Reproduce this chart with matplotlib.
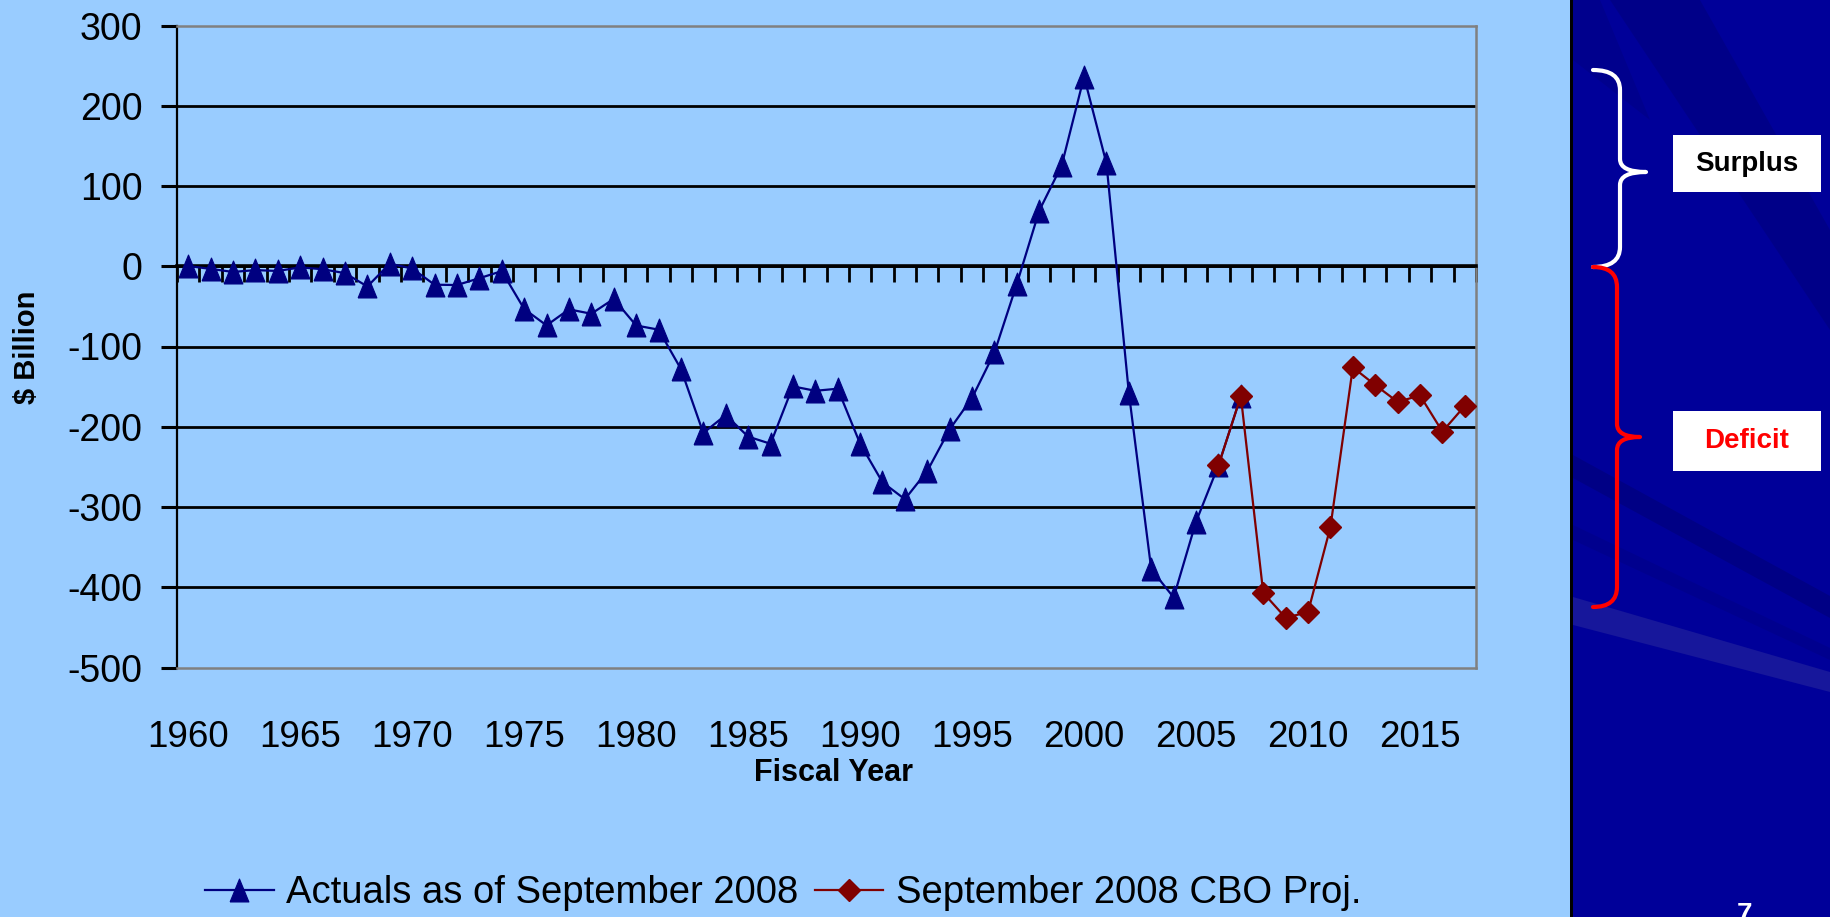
import numpy as np
import matplotlib
matplotlib.use("Agg")
import matplotlib.pyplot as plt
from matplotlib.path import Path
from matplotlib.patches import PathPatch, Rectangle, Polygon

# ---------------- data ----------------
years_actual = list(range(1960, 2008))
actual = [0.3, -3.3, -7.1, -4.8, -5.9, -1.4, -3.7, -8.6, -25.2, 3.2,
          -2.8, -23.0, -23.4, -14.9, -6.1, -53.2, -73.7, -53.7, -59.2, -40.7,
          -73.8, -79.0, -128.0, -207.8, -185.4, -212.3, -221.2, -149.7, -155.2, -152.6,
          -221.0, -269.2, -290.3, -255.1, -203.2, -164.0, -107.4, -21.9, 69.3, 125.6,
          236.2, 128.2, -157.8, -377.6, -412.7, -318.3, -248.2, -162.0]
years_proj = list(range(2006, 2018))
proj = [-248.2, -162.0, -407, -438, -431, -325, -126, -148, -169, -161, -206, -174]
year_labels = list(range(1960, 2016, 5))
y_ticks = list(range(-500, 301, 100))
series_names = ["Actuals as of September 2008", "September 2008 CBO Proj."]
x_title = "Fiscal Year"
y_title = "$ Billion"
side_labels = ["Surplus", "Deficit"]

W, H = 1830, 917
BG = '#99CCFF'
plt.rcParams['font.family'] = ['Liberation Sans', 'DejaVu Sans']

fig = plt.figure(figsize=(W / 100, H / 100), dpi=100, facecolor=BG)
L, R, T, B = 177, 1476, 25.5, 667.5
ax = fig.add_axes([L / W, 1 - B / H, (R - L) / W, (B - T) / H], facecolor=BG)
axb = ax.twiny()

ax.set_xlim(1959.5, 2017.5)
ax.set_ylim(-500, 300)
axb.set_xlim(1959.5, 2017.5)

# main axis: zero line with category tick marks
ax.spines['bottom'].set_position(('data', 0))
ax.spines['bottom'].set_linewidth(2.6)
ax.spines['bottom'].set_color('black')
ax.set_xticks(np.arange(1959.5, 2018, 1.0))
ax.tick_params(axis='x', which='major', direction='out', length=11.5, width=2.0,
               color='black', labelbottom=False, labeltop=False, bottom=True, top=False)

ax.set_yticks(y_ticks)
ax.set_yticklabels([str(v) for v in y_ticks])
ax.tick_params(axis='y', direction='out', length=11.5, width=2.2, color='black',
               pad=13.5, labelsize=27)
ax.grid(axis='y', color='black', linewidth=2.0)
for t in ax.yaxis.get_major_ticks():
    if t.get_loc() in (-500, 300):
        t.gridline.set_visible(False)
ax.spines['left'].set_color('black')
ax.spines['left'].set_linewidth(1.6)
for s in ('top', 'right'):
    ax.spines[s].set_color('#808080')
    ax.spines[s].set_linewidth(1.8)

# bottom axis for year labels
axb.xaxis.set_ticks_position('bottom')
axb.xaxis.set_label_position('bottom')
for s in ('top', 'left', 'right'):
    axb.spines[s].set_visible(False)
axb.spines['bottom'].set_color('#808080')
axb.spines['bottom'].set_linewidth(1.8)
axb.set_xticks(year_labels)
axb.set_xticklabels([str(y) for y in year_labels])
axb.tick_params(axis='x', length=0, pad=37.5, labelsize=26.5)
axb.set_xlabel(x_title, fontsize=22, fontweight='bold', va='center')
axb.xaxis.set_label_coords((833 - L) / (R - L), (B - 773) / (B - T))

ax.set_ylabel(y_title, fontsize=21, fontweight='bold', ha='center', va='center')
ax.yaxis.set_label_coords((27 - L) / (R - L), (B - 347) / (B - T))

# series
tri = [(-0.82, -1), (0.82, -1), (0, 1), (-0.82, -1)]
l1, = ax.plot(years_actual, actual, color='#000080', lw=1.6, marker=tri, ms=16.5,
              mfc='#000080', mec='#000080', mew=0.8, zorder=4, label=series_names[0],
              clip_on=False)
l2, = ax.plot(years_proj, proj, color='#800000', lw=1.6, marker='D', ms=11,
              mfc='#800000', mec='#800000', mew=1.0, zorder=5, label=series_names[1],
              clip_on=False)

fig.legend([l1, l2], series_names, loc='center', bbox_to_anchor=(783 / W, 1 - 893 / H),
           ncol=2, frameon=False, fontsize=27.5, handlelength=1.8, handletextpad=0.32,
           columnspacing=0.43, borderpad=0, borderaxespad=0)

# ---------------- right-hand slide panel ----------------
ov = fig.add_axes([0, 0, 1, 1], facecolor='none')
ov.set_xlim(0, W)
ov.set_ylim(H, 0)
ov.axis('off')
ov.add_patch(Rectangle((1573, 0), W - 1573, H, color='#000099', lw=0))
ov.add_patch(Polygon([(1610, 0), (1700, 0), (1830, 230), (1830, 330)], closed=True,
                     color='#00007e', alpha=0.6, lw=0))
ov.add_patch(Polygon([(1573, 0), (1600, 0), (1650, 120), (1573, 60)], closed=True,
                     color='#000085', alpha=0.6, lw=0))
ov.add_patch(Polygon([(1573, 455), (1573, 478), (1830, 618), (1830, 596)], closed=True,
                     color='#000085', lw=0))
ov.add_patch(Polygon([(1573, 525), (1573, 540), (1830, 660), (1830, 648)], closed=True,
                     color='#00008e', lw=0))
ov.add_patch(Polygon([(1573, 597), (1573, 625), (1830, 692), (1830, 672)], closed=True,
                     color='#17179b', lw=0))
ov.add_patch(Rectangle((1570, 0), 3, H, color='black', lw=0))


def brace(xe, xv, xt, y0, ym, y1, r, r2, color):
    verts = [(xe, y0), (xv, y0), (xv, y0 + r), (xv, ym - r2), (xv, ym), (xt, ym),
             (xv, ym), (xv, ym + r2), (xv, y1 - r), (xv, y1), (xe, y1)]
    codes = [Path.MOVETO, Path.CURVE3, Path.CURVE3, Path.LINETO, Path.CURVE3, Path.CURVE3,
             Path.CURVE3, Path.CURVE3, Path.LINETO, Path.CURVE3, Path.CURVE3]
    ov.add_patch(PathPatch(Path(verts, codes), fill=False, edgecolor=color, lw=3,
                           capstyle='round', joinstyle='round'))


brace(1593, 1620, 1646, 70, 172, 267, 20, 13, 'white')
brace(1593, 1617, 1640, 267, 437, 607, 20, 13, '#FF0000')

ov.add_patch(Rectangle((1673, 135), 148, 57, color='white', lw=0))
ov.text(1747, 164, side_labels[0], color='black', fontsize=20, fontweight='bold',
        ha='center', va='center')
ov.add_patch(Rectangle((1673, 411), 148, 60, color='white', lw=0))
ov.text(1747, 441, side_labels[1], color='#FF0000', fontsize=20, fontweight='bold',
        ha='center', va='center')
ov.text(1745, 902, '7', color='white', fontsize=20, fontweight='bold',
        ha='center', va='top', clip_on=False)

fig.savefig('out.png', dpi=100, facecolor=BG)
